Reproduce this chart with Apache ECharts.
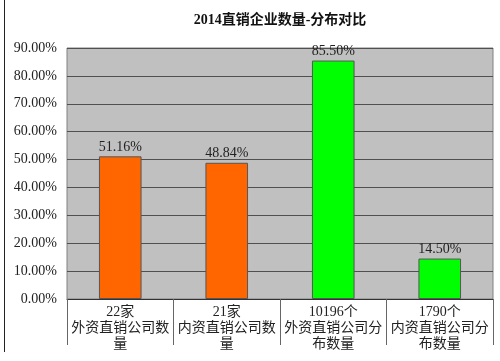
<!DOCTYPE html>
<html><head><meta charset="utf-8">
<script src="https://cdn.jsdelivr.net/npm/echarts@6/dist/echarts.min.js"></script>
<style>html,body{margin:0;padding:0;background:#fff}#c{width:500px;height:361px}</style>
</head><body><div id="c"></div>
<script>
var categories = ['22家\n外资直销公司数\n量', '21家\n内资直销公司数\n量', '10196个\n外资直销公司分\n布数量', '1790个\n内资直销公司分\n布数量'];
var values = [51.16, 48.84, 85.50, 14.50];
var barColors = ['#ff6600', '#ff6600', '#00ff00', '#00ff00'];
var font = '"Liberation Serif", "Noto Sans CJK SC", serif';
var chart = echarts.init(document.getElementById('c'));
chart.setOption({
  animation: false,
  title: {
    text: '2014直销企业数量-分布对比', left: 275, top: 8, textAlign: 'center',
    textStyle: {fontFamily: font, fontSize: 14, fontWeight: 'bold', color: '#111'}
  },
  graphic: [{type: 'line', shape: {x1: 4.5, y1: 0, x2: 4.5, y2: 352}, style: {stroke: '#222', lineWidth: 1}}],
  grid: {left: 67, right: 7, top: 48, bottom: 62, show: true, backgroundColor: '#c0c0c0', borderColor: '#808080', borderWidth: 1},
  xAxis: {
    type: 'category', data: categories,
    axisLine: {lineStyle: {color: '#333'}},
    axisTick: {show: true, length: 46, lineStyle: {color: '#666'}},
    axisLabel: {fontFamily: font, fontSize: 14, lineHeight: 16, color: '#222', margin: 5, interval: 0}
  },
  yAxis: {
    type: 'value', min: 0, max: 90, interval: 10,
    axisLine: {show: false}, axisTick: {show: false},
    splitLine: {lineStyle: {color: '#505050', width: 1}},
    axisLabel: {fontFamily: font, fontSize: 14, color: '#222', margin: 10,
      formatter: function (v) { return v.toFixed(2) + '%'; }}
  },
  series: [{
    type: 'bar', barWidth: '40%',
    data: values.map(function (v, i) { return {value: v, itemStyle: {color: barColors[i]}}; }),
    itemStyle: {borderColor: '#555', borderWidth: 1},
    label: {show: true, position: 'top', distance: 2, fontFamily: font, fontSize: 14, color: '#222',
      formatter: function (p) { return p.value.toFixed(2) + '%'; }}
  }]
});
</script></body></html>
